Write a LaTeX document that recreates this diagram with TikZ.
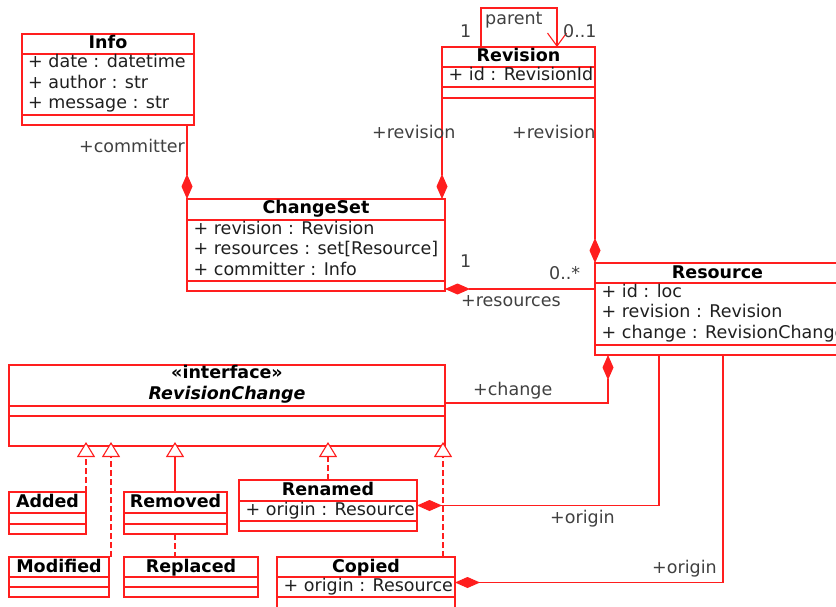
\documentclass[tikz,border=0pt]{standalone}
\usepackage{fontspec}
\setmainfont{DejaVu Sans}
\usetikzlibrary{arrows.meta,calc}

\definecolor{umlred}{RGB}{255,30,30}
\definecolor{labelgray}{RGB}{64,64,64}

\tikzset{
  umlline/.style={draw=umlred, line width=1.1pt},
  classbox/.style={umlline, rectangle, inner sep=0pt, outer sep=0pt, anchor=north west},
  cname/.style={anchor=base, inner sep=0pt, font=\bfseries, text=black},
  attr/.style={anchor=base west, inner sep=0pt, text=black!88},
  lbl/.style={anchor=base west, inner sep=0pt, text=labelgray},
  comp/.style={umlline, {Diamond[length=25pt,width=11pt,fill=umlred]}-},
  compend/.style={umlline, -{Diamond[length=25pt,width=11pt,fill=umlred]}},
  dashline/.style={umlline, dash pattern=on 6pt off 3pt},
  realize/.style={dashline, shorten >=-4pt, -{Triangle[open,length=15pt,width=18pt,fill=white]}},
  generalize/.style={umlline, shorten >=-4pt, -{Triangle[open,length=15pt,width=18pt,fill=white]}},
  nav/.style={umlline, -{Straight Barb[length=13pt,width=19pt]}}
}

% class box: name, left, top, width, height, title line, attribute line, title
\newcommand{\umlclass}[8]{%
  \node[classbox, minimum width=#4pt, minimum height=#5pt] (#1) at (#2,#3) {};
  \draw[umlline] (#2,#6) -- ++(#4,0) (#2,#7) -- ++(#4,0);
  \node[cname] at ({#2+#4/2},{#3+15}) {#8};
}

\begin{document}
\begin{tikzpicture}[x=1pt,y=-1pt]
\fontsize{17.5}{20}\selectfont
\useasboundingbox (0,0) rectangle (836,607);

% classes
\umlclass{info}{22}{34}{172}{91}{54}{115}{Info}
\node[attr] at (28,68) {+ date : datetime};
\node[attr] at (28,88.5) {+ author : str};
\node[attr] at (28,109) {+ message : str};

\umlclass{rev}{442}{47}{153}{51}{67}{87}{Revision}
\node[attr] at (448.5,81) {+ id : RevisionId};

\umlclass{cs}{187}{199}{258}{92}{220}{281}{ChangeSet}
\node[attr] at (193.5,234) {+ revision : Revision};
\node[attr] at (193.5,254.5) {+ resources : set[Resource]};
\node[attr] at (193.5,275) {+ committer : Info};

\umlclass{res}{595}{263}{245}{92}{283}{345}{Resource}
\node[attr] at (601.5,297) {+ id : loc};
\node[attr] at (601.5,317.5) {+ revision : Revision};
\node[attr] at (601.5,338) {+ change : RevisionChange};

% interface
\node[classbox, minimum width=436pt, minimum height=81pt] (rc) at (9,365) {};
\draw[umlline] (9,406) -- ++(436,0) (9,416) -- ++(436,0);
\node[cname] at (227,378) {«interface»};
\node[cname, font=\bfseries\itshape] at (227,399) {RevisionChange};

\umlclass{added}{9}{492}{77}{42}{513}{524}{Added}
\umlclass{removed}{124}{492}{103}{42}{513}{524}{Removed}
\umlclass{renamed}{239}{480}{178}{51}{501}{521}{Renamed}
\node[attr] at (245.5,515) {+ origin : Resource};
\umlclass{modified}{9}{557}{100}{40}{577}{587}{Modified}
\umlclass{replaced}{124}{557}{134}{40}{577}{587}{Replaced}
\umlclass{copied}{277}{557}{178}{51}{577}{597}{Copied}
\node[attr] at (283.5,591) {+ origin : Resource};

% connector end points on the class borders
\coordinate (revloopA) at ($(rev.north west)+(39,0)$);
\coordinate (revloopB) at ($(rev.north west)+(115,0)$);
\coordinate (csres) at ($(cs.south east)+(0,-2)$);
\coordinate (reschange) at ($(res.south west)+(13,0)$);
\coordinate (rcchange) at ($(rc.north east)+(0,38)$);
\coordinate (resren) at ($(res.south west)+(64,0)$);
\coordinate (rescop) at ($(res.south west)+(128,0)$);
\coordinate (modtop) at ($(modified.north east)+(2,0)$);
\coordinate (remtop) at ($(removed.north west)+(51,0)$);
\coordinate (rembot) at ($(removed.south west)+(51,0)$);
\coordinate (rentop) at ($(renamed.north west)+(89,0)$);
\coordinate (coptop) at ($(copied.north east)+(-12,0)$);

% self association on Revision
\draw[nav] (revloopA) -- ++(0,-39) -| (revloopB);
\node[lbl] at (460,38) {1};
\node[lbl] at (485,25) {parent};
\node[lbl] at (563,38) {0..1};

% compositions
\draw[compend] (info.south -| cs.north west) -- (cs.north west);
\node[lbl] at (79,153) {+committer};

\draw[compend] (rev.south west) -- (rev.south west |- cs.north);
\node[lbl] at (372,139) {+revision};

\draw[compend] (rev.south east) -- (rev.south east |- res.north);
\node[lbl] at (512,139) {+revision};

\draw[comp] (csres) -- (csres -| res.west);
\node[lbl] at (460,267) {1};
\node[lbl] at (549,279) {0..*};
\node[lbl] at (461,306) {+resources};

\draw[comp] (reschange) |- (rcchange);
\node[lbl] at (473,395) {+change};

\draw[compend] (resren) |- (renamed.east);
\node[lbl] at (550,523) {+origin};

\draw[compend] (rescop) |- (copied.east);
\node[lbl] at (652,573) {+origin};

% realizations and generalization
\draw[realize] (added.north east) -- (added.north east |- rc.south);
\draw[realize] (modtop) -- (modtop |- rc.south);
\draw[generalize] (remtop) -- (remtop |- rc.south);
\draw[dashline] (rembot) -- (rembot |- replaced.north);
\draw[realize] (rentop) -- (rentop |- rc.south);
\draw[realize] (coptop) -- (coptop |- rc.south);
\end{tikzpicture}
\end{document}
